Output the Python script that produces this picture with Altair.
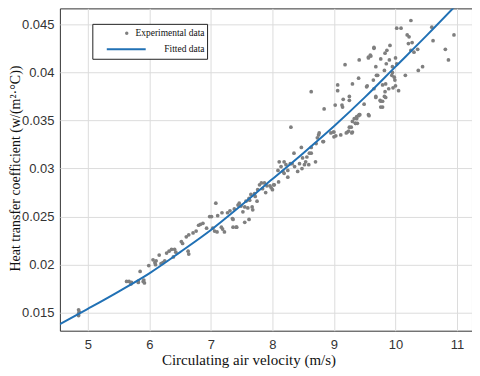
import altair as alt
import pandas as pd

# Experimental data (circulating air velocity m/s, heat transfer coefficient)
exp_velocity = [
    4.85, 4.85, 4.86, 4.85,
    5.63, 5.67, 5.71, 5.70, 5.82, 5.82, 5.85, 5.90, 5.91, 5.92, 5.99, 6.06, 6.09, 6.11, 6.10,
    6.16, 6.19, 6.22, 6.25, 6.28, 6.32, 6.36, 6.41, 6.39, 6.43,
    6.52, 6.54, 6.60, 6.64, 6.63, 6.64, 6.71, 6.76, 6.80, 6.83, 6.87, 6.93, 6.98, 7.01, 7.03,
    7.06, 7.08, 7.10, 7.11, 7.17, 7.19, 7.22, 7.18, 7.27, 7.31, 7.35, 7.36, 7.38, 7.42, 7.44,
    7.46, 7.52, 7.55, 7.55, 7.57, 7.60, 7.62, 7.63, 7.65, 7.67, 7.68, 7.71, 7.72, 7.75, 7.76,
    7.79, 7.82, 7.84, 7.87, 7.89, 7.91, 7.96, 8.00, 8.03, 8.10, 7.41, 7.49, 7.62, 7.36,
    7.98, 8.02, 8.09, 8.11, 8.14, 8.17, 8.19, 8.22, 8.25, 8.25, 8.29, 8.32, 8.30, 8.35, 8.36,
    8.41, 8.44, 8.47, 8.48, 8.49, 8.52, 8.54, 8.56, 8.59, 8.60, 8.63, 8.70, 8.71, 8.75, 8.76,
    8.82, 8.84, 8.95, 8.99, 9.02, 9.03, 9.11, 9.13, 9.22, 9.25, 9.29, 9.33, 9.35, 9.37, 9.38,
    9.42, 9.56, 8.19,
    8.63, 9.06, 9.06, 9.15, 9.25, 9.25, 9.14, 9.18, 9.41, 9.30, 9.40, 9.49, 9.41,
    9.68, 9.76, 9.79, 9.84, 9.24, 9.30, 9.20, 9.00, 9.00, 8.73, 8.83, 8.63,
    10.25, 10.02, 10.09, 10.19, 10.22, 10.27, 10.21, 10.25, 10.30, 10.36, 10.59, 10.61, 10.95,
    10.81, 10.86, 10.44, 10.37, 10.16, 9.91, 9.86, 9.83, 9.76, 9.85, 9.90, 10.00, 10.02, 9.95,
    9.95, 9.82, 9.68, 9.65, 9.60, 9.56, 9.53, 9.64, 9.69, 9.65, 9.68, 9.79, 9.84, 9.83, 9.89,
    9.98, 9.94, 9.99, 9.96, 10.00, 10.05, 9.82, 9.79, 9.75, 9.76, 9.40, 9.37, 9.30, 9.35, 9.28,
    9.57, 9.65, 9.56, 9.59, 9.54, 9.71,
]
exp_htc = [
    0.0147, 0.0149, 0.0151, 0.0153,
    0.01825, 0.01825, 0.01815, 0.0180, 0.01815, 0.0183, 0.0193, 0.01825, 0.0184, 0.0181, 0.0199, 0.0205, 0.0202, 0.0204, 0.0200,
    0.0210, 0.0201, 0.0202, 0.0204, 0.0212, 0.0214, 0.0216, 0.0216, 0.0208, 0.0213,
    0.0224, 0.0222, 0.0229, 0.0231, 0.0214, 0.0211, 0.0233, 0.0235, 0.0241, 0.0242, 0.0243, 0.0238, 0.0250, 0.0250, 0.0238,
    0.0235, 0.0264, 0.0234, 0.0251, 0.0239, 0.0237, 0.0234, 0.0254, 0.0254, 0.0256, 0.0248, 0.0239, 0.0258, 0.0239, 0.0262,
    0.0264, 0.0255, 0.0244, 0.0260, 0.0266, 0.0259, 0.0247, 0.0267, 0.0273, 0.0260, 0.0257, 0.0274, 0.0271, 0.0266, 0.0278,
    0.0283, 0.0285, 0.0279, 0.0285, 0.0275, 0.0282, 0.0282, 0.0278, 0.0283, 0.0286, 0.0239, 0.0261, 0.0269, 0.0247,
    0.0280, 0.0283, 0.0298, 0.0307, 0.0302, 0.0297, 0.0307, 0.0304, 0.0298, 0.0291, 0.0305, 0.0305, 0.0343, 0.0316, 0.0302,
    0.0297, 0.0305, 0.0322, 0.0300, 0.0311, 0.0304, 0.0307, 0.0312, 0.0304, 0.0316, 0.0322, 0.0307, 0.0326, 0.0335, 0.0337,
    0.0328, 0.0362, 0.0337, 0.0338, 0.0366, 0.0334, 0.0335, 0.0366, 0.0338, 0.0343, 0.0337, 0.0352, 0.0347, 0.0354, 0.0347,
    0.0356, 0.0356, 0.0295,
    0.0380, 0.0387, 0.0381, 0.0372, 0.0375, 0.0371, 0.0364, 0.0408, 0.0413, 0.0388, 0.0394, 0.0367, 0.0356,
    0.0375, 0.0370, 0.0364, 0.0374, 0.0339, 0.0338, 0.0337, 0.0338, 0.0333, 0.0332, 0.0328, 0.0316,
    0.0454, 0.0446, 0.0446, 0.0439, 0.0437, 0.0431, 0.0430, 0.0423, 0.0421, 0.0424, 0.0447, 0.0433, 0.0439,
    0.0424, 0.0413, 0.0406, 0.0402, 0.0397, 0.0428, 0.0423, 0.0420, 0.0414, 0.0409, 0.0413, 0.0415, 0.0409, 0.0406,
    0.0400, 0.0402, 0.0406, 0.0425, 0.0417, 0.0415, 0.0385, 0.0392, 0.0397, 0.0383, 0.0374, 0.0387, 0.0388, 0.0380, 0.0383,
    0.0395, 0.0397, 0.0392, 0.0384, 0.0386, 0.0381, 0.0375, 0.0370, 0.0371, 0.0364, 0.0355, 0.0352, 0.0349, 0.0347, 0.0343,
    0.0355, 0.0426, 0.0416, 0.0418, 0.0386, 0.0397,
]

# Fitted curve
fit_velocity = [4.546, 5.0, 5.5, 6.0, 6.5, 7.0, 7.5, 8.0, 8.5, 9.0, 9.5, 10.0, 10.5, 11.0]
fit_htc = [0.0138, 0.0154, 0.0172, 0.0191, 0.0213, 0.0236, 0.0262, 0.0289, 0.0316, 0.0344, 0.0374, 0.0406, 0.0438, 0.0471]

legend_labels = ["Experimental data", "Fitted data"]
x_title = "Circulating air velocity (m/s)"
y_title = "Heat transfer coefficient (w/(m²·°C))"

exp_df = pd.DataFrame({"v": exp_velocity, "h": exp_htc})
fit_df = pd.DataFrame({"v": fit_velocity, "h": fit_htc})

W, H = 413, 323
x_scale = alt.Scale(domain=[4.546, 11.243], nice=False, zero=False)
y_scale = alt.Scale(domain=[0.01313, 0.04666], nice=False, zero=False)

x_axis = alt.Axis(title=x_title, values=[5, 6, 7, 8, 9, 10, 11], format="d", ticks=False,
                  labelPadding=8, titleX=189, titleY=29, titleAnchor="middle",
                  titleAlign="center", titleBaseline="middle", titleFontSize=15)
y_axis = alt.Axis(title=y_title, values=[0.015, 0.02, 0.025, 0.03, 0.035, 0.04, 0.045],
                  labelExpr="replace(format(datum.value, '.3~f'), /^0\\./, '0.')",
                  ticks=False, labelPadding=6, titleX=-44, titleY=160, titleAngle=270,
                  titleAlign="center", titleBaseline="middle", titleFontSize=14)

points = alt.Chart(exp_df).mark_circle(size=14, color="#7f7f7f", opacity=1).encode(
    x=alt.X("v:Q", scale=x_scale, axis=x_axis),
    y=alt.Y("h:Q", scale=y_scale, axis=y_axis),
)

line = alt.Chart(fit_df).mark_line(color="#2171b5", strokeWidth=2, clip=True,
                                   interpolate="monotone").encode(
    x=alt.X("v:Q", scale=x_scale),
    y=alt.Y("h:Q", scale=y_scale),
)

# Legend box (drawn manually, MATLAB style)
leg_box = alt.Chart(pd.DataFrame({"a": [0]})).mark_rect(
    fill="white", stroke="#222222", strokeWidth=1).encode(
    x=alt.value(33), x2=alt.value(148), y=alt.value(16), y2=alt.value(51))
leg_dot = alt.Chart(pd.DataFrame({"a": [0]})).mark_circle(
    size=12, color="#7f7f7f", opacity=1).encode(x=alt.value(67), y=alt.value(25))
leg_line = alt.Chart(pd.DataFrame({"a": [0]})).mark_rule(
    color="#2171b5", strokeWidth=2).encode(x=alt.value(47), x2=alt.value(86), y=alt.value(41))
leg_text1 = alt.Chart(pd.DataFrame({"t": [legend_labels[0]]})).mark_text(
    align="right", baseline="middle", font="Liberation Serif", fontSize=9.5, color="#111111").encode(
    x=alt.value(145), y=alt.value(25), text="t:N")
leg_text2 = alt.Chart(pd.DataFrame({"t": [legend_labels[1]]})).mark_text(
    align="right", baseline="middle", font="Liberation Serif", fontSize=9.5, color="#111111").encode(
    x=alt.value(145), y=alt.value(41), text="t:N")

chart = alt.layer(points, line, leg_box, leg_dot, leg_line, leg_text1, leg_text2).properties(
    width=W, height=H,
    autosize=alt.AutoSizeParams(type="none"),
    padding={"left": 52, "top": 0, "right": 0, "bottom": 37},
).configure_view(
    stroke="#333333", strokeWidth=1
).configure_axis(
    grid=True, gridColor="#dcdcdc", gridWidth=1,
    domain=False,
    labelFont="Liberation Sans", labelFontSize=13, labelColor="#333333",
    titleFont="Liberation Serif", titleFontWeight="normal", titleColor="#111111",
)

chart.save("out.html", embed_options={"renderer": "svg", "actions": False})
